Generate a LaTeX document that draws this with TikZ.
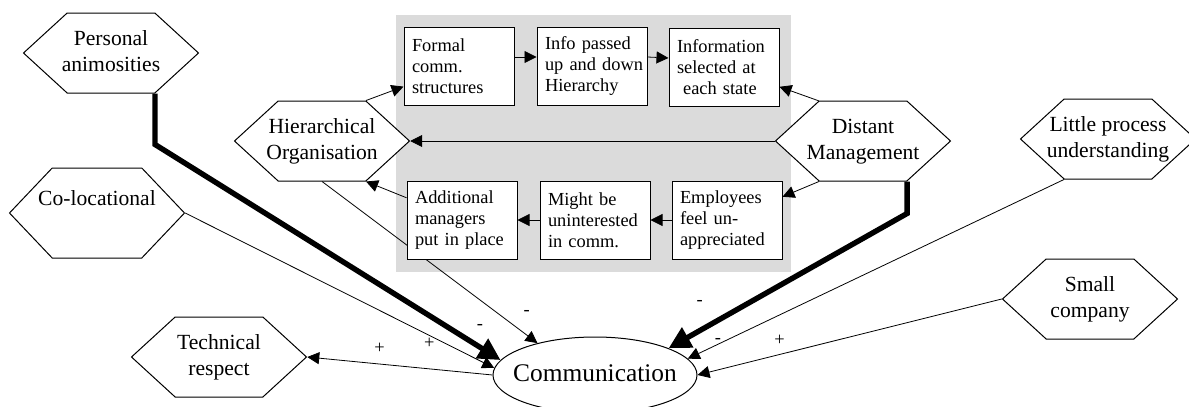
\documentclass[tikz,border=0pt]{standalone}
\usepackage{fontspec}
\setmainfont{Liberation Serif}
\usepackage{tikz}
\usetikzlibrary{arrows.meta,backgrounds,fit,shapes.geometric,shapes.symbols}
\definecolor{panelgray}{gray}{0.86}
\newcommand{\zlabel}[1]{\makebox[0pt]{\begin{tabular}{@{}c@{}}#1\end{tabular}}}
\tikzset{hexa/.style={signal, signal to=east and west, signal pointer angle=85,
    draw, fill=white, inner sep=0pt, minimum width=87.5pt, minimum height=40pt,
    font=\fontsize{10.8}{13}\selectfont},
  procbox/.style={rectangle, draw, fill=white, minimum width=55pt, minimum height=39pt,
    text width=47pt, inner xsep=4pt, align=left, font=\fontsize{9.2}{10.5}\selectfont},
  sign/.style={font=\fontsize{9.2}{10.5}\selectfont, inner sep=0pt},
  strong/.style={line width=2.7pt, -{Triangle[length=11pt,width=11pt]}},
%thin arrows everywhere else
  >={Triangle[length=6pt,width=6pt]}}

\begin{document}
\begin{tikzpicture}[x=0.5pt, y=-0.5pt, line width=0.5pt]
\useasboundingbox (0,0) rectangle (1189,407);

\node[hexa] (pa) at (111,53) {\zlabel{Personal\\animosities}};
\node[hexa, minimum height=45pt, signal pointer angle=93] (col) at (97,213) {\zlabel{Co-locational\\~}};
\node[hexa] (ho) at (322,141) {\zlabel{Hierarchical\\Organisation}};
\node[hexa] (dm) at (863,141) {\zlabel{Distant\\Management}};
\node[hexa] (lp) at (1108,139) {\zlabel{Little process\\understanding}};
\node[hexa] (sc) at (1090,299) {\zlabel{Small\\company}};
\node[hexa] (tr) at (219,357) {\zlabel{Technical\\respect}};

\node[ellipse, draw, fill=white, minimum width=102pt, minimum height=38pt, inner sep=0pt,
  font=\fontsize{12.7}{15}\selectfont] (comm) at (595,375) {\zlabel{Communication}};

\node[procbox] (formal) at (459,66) {Formal\\comm.\\structures};
\node[procbox] (info) at (592,66) {Info passed\\up~and~down\\Hierarchy};
\node[procbox] (infosel) at (724,67) {Information\\selected at\\~each state};
\node[procbox] (add) at (462,220) {Additional\\managers\\put in place};
\node[procbox] (might) at (595,220) {Might be\\uninterested\\in comm.};
\node[procbox] (emp) at (727,220) {Employees\\feel un-\\appreciated};

\begin{scope}[on background layer]
  \node[fit=(formal)(emp), inner xsep=4pt, inner ysep=6pt, fill=panelgray] (panel) {};

  \draw[->] (ho.north east) -- (formal);
  \draw[->] ([yshift=4.5pt]formal.east) -- ([yshift=4.5pt]info.west);
  \draw[->] ([yshift=4.5pt]info.east) -- ([yshift=4.5pt]infosel.west);
  \draw[->] (dm.north west) -- (infosel);
  \draw[->] (dm.west) -- (ho.east);
  \draw[->] (dm.south west) -- (emp);
  \draw[->] (emp) -- (might);
  \draw[->] (might) -- (add);
  \draw[->] (add) -- (ho.south east);

  \draw[strong] (pa.south east) -- ++(0,51) -- (comm.171) node[sign, pos=0.94, yshift=10pt] (spa) {-};
  \draw[->] (col.east) -- (comm.176) node[sign, pos=0.79, yshift=-4pt] (scl) {+};
  \draw[->] (ho.south) -- (comm.151) node[sign, pos=0.95, yshift=11pt] (sho) {-};
  \draw[->] (comm.west) -- (tr.east) node[sign, pos=0.61, yshift=8pt] (str) {+};
  \draw[strong] (dm.south east) -- ++(0,32) -- (comm.20) node[sign, pos=0.87, yshift=14pt] (sdm) {-};
  \draw[->] (lp.south west) -- (comm.10) node[sign, pos=0.92, yshift=1.5pt] (slp) {-};
  \draw[->] (sc.west) -- (comm.east) node[sign, pos=0.73, yshift=7pt] (ssc) {+};
\end{scope}

\end{tikzpicture}
\end{document}
